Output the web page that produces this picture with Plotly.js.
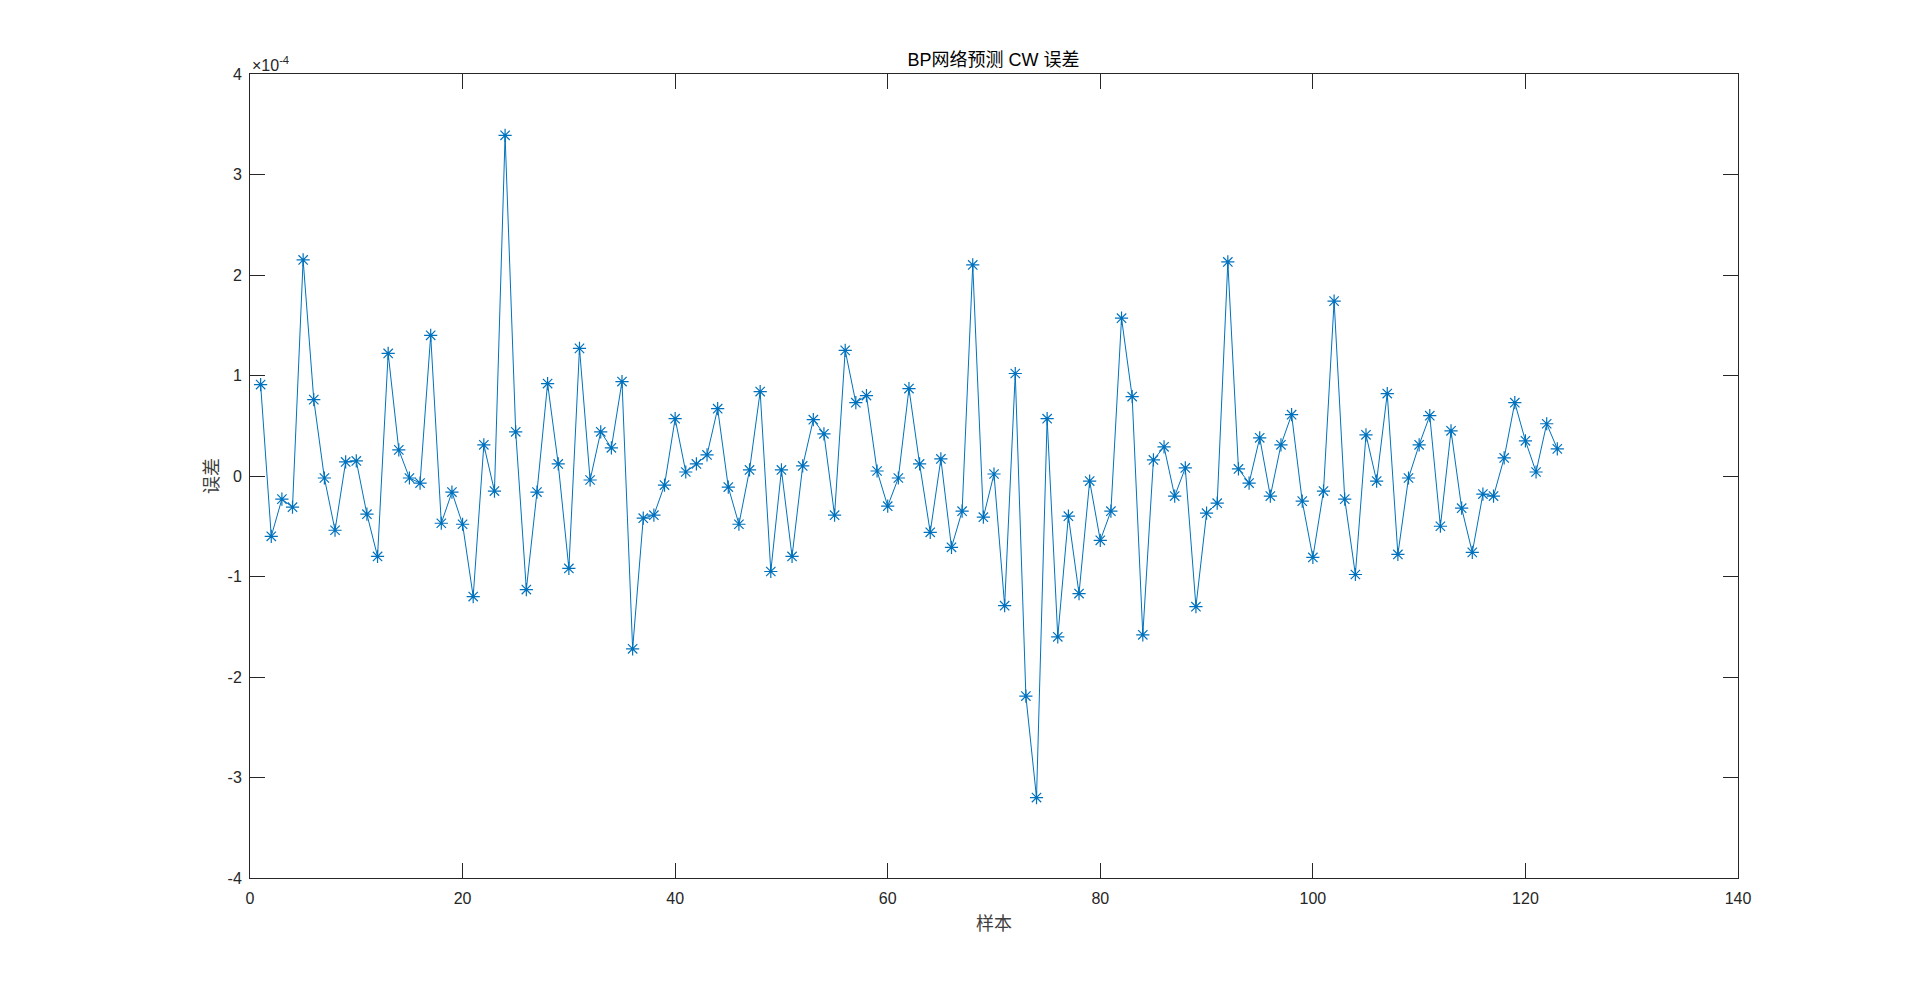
<!DOCTYPE html>
<html>
<head>
<meta charset="utf-8">
<script src="https://cdn.plot.ly/plotly-3.0.1.min.js"></script>
<style>html,body{margin:0;padding:0;background:#fff;}#chart{width:1920px;height:987px;}</style>
</head>
<body>
<div id="chart"></div>
<script>
// Sample index (样本)
const sampleIndex = Array.from({length: 123}, (_, i) => i + 1);
// Error values in units of 1e-4 (误差 ×10^-4)
const errorScaled = [
  0.91, -0.60, -0.23, -0.31, 2.15, 0.76, -0.02, -0.54, 0.14, 0.15,
  -0.38, -0.80, 1.22, 0.26, -0.02, -0.07, 1.40, -0.47, -0.16, -0.48,
  -1.20, 0.31, -0.15, 3.39, 0.44, -1.13, -0.16, 0.92, 0.12, -0.92,
  1.27, -0.04, 0.44, 0.28, 0.94, -1.72, -0.42, -0.39, -0.09, 0.57,
  0.04, 0.12, 0.21, 0.67, -0.11, -0.48, 0.06, 0.84, -0.95, 0.06,
  -0.80, 0.10, 0.56, 0.42, -0.39, 1.25, 0.73, 0.80, 0.05, -0.30,
  -0.02, 0.87, 0.12, -0.56, 0.17, -0.71, -0.35, 2.10, -0.41, 0.02,
  -1.29, 1.02, -2.19, -3.20, 0.57, -1.60, -0.40, -1.17, -0.05, -0.64,
  -0.35, 1.57, 0.79, -1.58, 0.16, 0.29, -0.20, 0.08, -1.30, -0.37,
  -0.27, 2.13, 0.07, -0.07, 0.38, -0.20, 0.31, 0.61, -0.25, -0.81,
  -0.15, 1.74, -0.23, -0.98, 0.41, -0.05, 0.82, -0.78, -0.02, 0.31,
  0.60, -0.50, 0.45, -0.32, -0.76, -0.18, -0.20, 0.18, 0.73, 0.35,
  0.04, 0.52, 0.27
];
const xTicks = [0, 20, 40, 60, 80, 100, 120, 140];
const yTicks = [-4, -3, -2, -1, 0, 1, 2, 3, 4];
const titleText = 'BP网络预测 CW 误差';
const xLabel = '样本';
const yLabel = '误差';
const exponentText = '×10<sup>-4</sup>';

const axisColor = '#262626';
const tickFont = {family: 'Liberation Sans, Arial, sans-serif', size: 16, color: axisColor};
const cjkFont = {family: 'Noto Sans CJK SC, sans-serif', size: 18, color: '#404040'};

const trace = {
  x: sampleIndex,
  y: errorScaled,
  type: 'scatter',
  mode: 'lines+markers',
  line: {color: '#0072BD', width: 1},
  marker: {symbol: 'asterisk-open', size: 11, color: '#0072BD', line: {color: '#0072BD', width: 1.2}},
  hoverinfo: 'x+y'
};

const axisCommon = {
  showline: true, linecolor: axisColor, linewidth: 1, mirror: 'allticks',
  ticks: 'inside', ticklen: 15, tickwidth: 1, tickcolor: axisColor,
  showgrid: false, zeroline: false, tickfont: tickFont, fixedrange: true
};

const layout = {
  width: 1920, height: 987,
  paper_bgcolor: '#ffffff', plot_bgcolor: '#ffffff',
  margin: {l: 250, r: 182, t: 74, b: 109, pad: 0},
  showlegend: false,
  title: {
    text: titleText,
    font: {family: 'Liberation Sans, Noto Sans CJK SC, sans-serif', size: 18, color: '#000000'},
    x: 0.5175, xref: 'container', xanchor: 'center',
    y: 1 - 60/987, yref: 'container', yanchor: 'middle'
  },
  xaxis: Object.assign({}, axisCommon, {
    range: [0, 140], tickmode: 'array', tickvals: xTicks, ticktext: xTicks.map(String),
    ticklabelstandoff: 6
  }),
  yaxis: Object.assign({}, axisCommon, {
    range: [-4, 4], tickmode: 'array', tickvals: yTicks, ticktext: yTicks.map(String),
    ticklabelstandoff: 4
  }),
  annotations: [
    {text: xLabel, xref: 'paper', yref: 'paper', x: 0.5, y: 0, xanchor: 'center', yanchor: 'middle',
     yshift: -44, showarrow: false, font: cjkFont},
    {text: yLabel, xref: 'paper', yref: 'paper', x: 0, y: 0.5, xanchor: 'center', yanchor: 'middle',
     xshift: -40, textangle: -90, showarrow: false, font: cjkFont},
    {text: exponentText, xref: 'paper', yref: 'paper', x: 0, y: 1, xanchor: 'left', yanchor: 'bottom',
     xshift: 0, yshift: -2, showarrow: false, font: tickFont}
  ]
};

Plotly.newPlot('chart', [trace], layout, {displayModeBar: false, staticPlot: false});
</script>
</body>
</html>
